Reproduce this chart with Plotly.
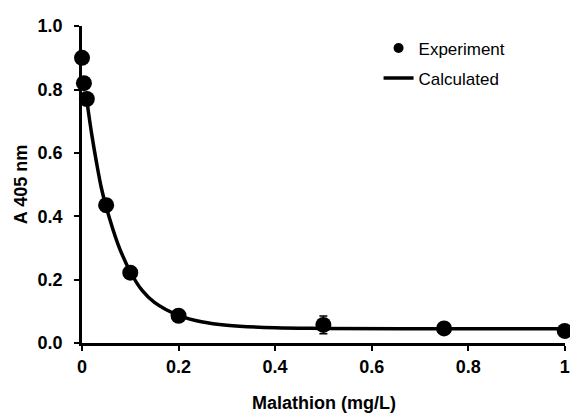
import plotly.graph_objects as go

# Experimental data
exp_x = [0.0, 0.004, 0.01, 0.05, 0.1, 0.2, 0.5, 0.75, 1.0]
exp_y = [0.90, 0.82, 0.77, 0.435, 0.222, 0.086, 0.057, 0.046, 0.038]
exp_err = [0.0, 0.01, 0.01, 0.02, 0.01, 0.008, 0.028, 0.008, 0.006]

# Calculated curve
calc_x = [0.01, 0.02, 0.03, 0.04, 0.05, 0.075, 0.1, 0.125, 0.15, 0.2, 0.25, 0.3, 0.4, 0.5, 0.75, 1.0]
calc_y = [0.765, 0.66, 0.57, 0.49, 0.43, 0.31, 0.225, 0.165, 0.128, 0.087, 0.066, 0.056, 0.048, 0.046, 0.045, 0.045]

x_ticks = [0, 0.2, 0.4, 0.6, 0.8, 1]
x_labels = ["0", "0.2", "0.4", "0.6", "0.8", "1"]
y_ticks = [0, 0.2, 0.4, 0.6, 0.8, 1.0]
y_labels = ["0.0", "0.2", "0.4", "0.6", "0.8", "1.0"]

FONT = "Liberation Sans, Arial, sans-serif"
FS = 17
TFS = 18

fig = go.Figure()
fig.add_trace(go.Scatter(
    x=calc_x, y=calc_y, mode="lines", name="Calculated",
    line=dict(color="black", width=3.5, shape="spline", smoothing=1.0),
    legendrank=2, legendgroup="b", cliponaxis=False,
))
fig.add_trace(go.Scatter(
    x=exp_x, y=exp_y, mode="markers", name="Experiment",
    marker=dict(color="black", size=16),
    error_y=dict(type="data", array=exp_err, color="black", thickness=1.5, width=4),
    showlegend=False, cliponaxis=False,
))
# legend-only entry with a smaller symbol, as in the reference
fig.add_trace(go.Scatter(
    x=[None], y=[None], mode="markers", name="Experiment",
    marker=dict(color="black", size=10),
    legendrank=1, legendgroup="a",
))

# The page body has an 8px default margin, so the figure is 8px smaller
fig.update_layout(
    width=570, height=406,
    margin=dict(l=74, r=8, t=13, b=71),
    paper_bgcolor="white", plot_bgcolor="white",
    font=dict(family=FONT, color="black", size=FS),
    legend=dict(x=0.614, y=0.986, xanchor="left", yanchor="top",
                font=dict(family=FONT, size=FS, color="black"),
                bgcolor="rgba(0,0,0,0)", tracegroupgap=5, itemwidth=30),
    showlegend=True,
    annotations=[
        dict(text="<b>Malathion (mg/L)</b>", xref="paper", yref="paper",
             x=0.5, y=-0.189, xanchor="center", yanchor="middle", showarrow=False,
             font=dict(family=FONT, size=TFS, color="black")),
        dict(text="<b>A 405 nm</b>", xref="paper", yref="paper", textangle=-90,
             x=-0.127, y=0.5, xanchor="center", yanchor="middle", showarrow=False,
             font=dict(family=FONT, size=TFS, color="black")),
    ],
)
fig.update_xaxes(
    range=[0, 1.0005], tickvals=x_ticks, ticktext=x_labels,
    showgrid=False, zeroline=False, showline=True, linecolor="black", linewidth=2.5,
    ticks="outside", ticklen=5, tickwidth=2, tickcolor="black",
    tickfont=dict(family=FONT, size=FS + 1, weight="bold"), ticklabelstandoff=1,
)
fig.update_yaxes(
    range=[0, 1.0005], tickvals=y_ticks, ticktext=y_labels,
    showgrid=False, zeroline=False, showline=True, linecolor="black", linewidth=2.5,
    ticks="outside", ticklen=5, tickwidth=2, tickcolor="black",
    tickfont=dict(family=FONT, size=FS + 1, weight="bold"), ticklabelstandoff=8,
)

fig.write_html("out.html")
